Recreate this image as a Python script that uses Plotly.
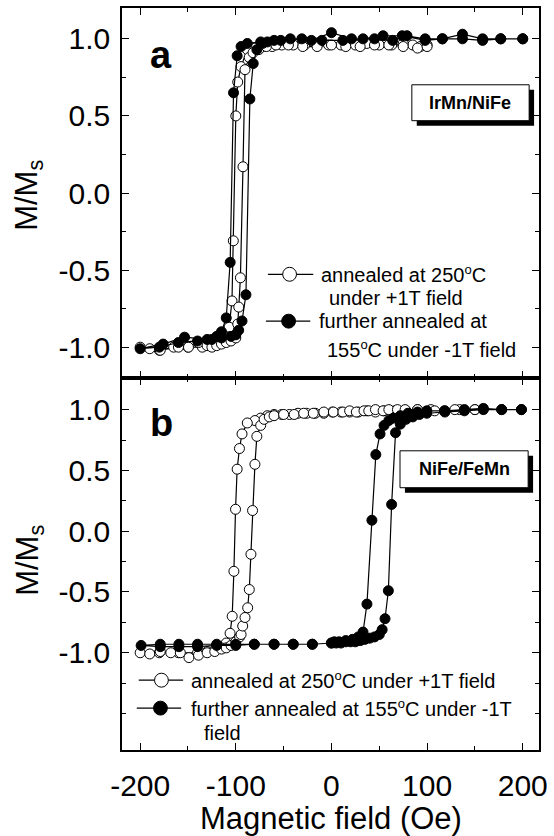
import plotly.graph_objects as go

# ---------------- data (H in Oe, M/Ms) ----------------
# Panel a: IrMn/NiFe
a_open_H = [100, 93, 85, 75, 63, 50, 37, 25, 10, -3, -15, -28, -40, -52, -62, -72, -80, -88,
            -94.5, -98, -100, -102.6, -104, -107, -110, -120, -135, -150, -165, -180, -200,
            -190, -179, -160, -149.5, -139, -130, -125, -120, -115, -110, -105, -100, -98,
            -96.9, -95.2, -92.5, -90.4, -86, -82, -76, -68, -58, -45, -30, -15, 0, 15, 30,
            45, 60, 75, 90, 100]
a_open_M = [0.96, 0.95, 0.96, 0.97, 0.96, 0.96, 0.97, 0.96, 0.96, 0.96, 0.97, 0.96, 0.96, 0.96,
            0.95, 0.95, 0.94, 0.93, 0.82, 0.72, 0.50, -0.31, -0.70, -0.87, -0.95, -0.98, -1.0,
            -1.0, -1.0, -1.02, -1.0,
            -1.01, -1.02, -1.0, -1.0, -0.97, -0.99, -1.0, -0.99, -0.98, -0.97, -0.96, -0.94,
            -0.85, -0.74, -0.55, 0.17, 0.80, 0.88, 0.91, 0.93, 0.95, 0.96, 0.96, 0.95, 0.95,
            0.96, 0.95, 0.95, 0.96, 0.96, 0.95, 0.94, 0.95]
a_fill_H = [200, 177, 158, 137, 116, 98, 79, 64, 45, 21, 0, -21, -43, -60, -74, -88, -94.5,
            -98.6, -102.4, -105.9, -110, -115, -120, -130, -153.6, -176, -200,
            -180, -160, -140, -125, -115, -105, -100, -97, -93.5, -89.4, -85.3, -81.8, -78,
            -72, -67, -53, -31, -10, 12, 33, 54, 74, 98, 116, 137, 158, 177, 200]
a_fill_M = [1.0, 1.0, 1.0, 1.03, 1.0, 1.0, 1.02, 0.99, 1.0, 1.0, 1.04, 0.99, 1.0, 0.99, 0.98,
            0.97, 0.95, 0.89, 0.65, -0.45, -0.81, -0.90, -0.93, -0.95, -0.935, -0.98, -1.01,
            -1.0, -0.97, -0.96, -0.95, -0.94, -0.93, -0.92, -0.89, -0.83, -0.66, 0.61, 0.84,
            0.93, 0.97, 0.98, 0.99, 1.0, 0.99, 0.99, 1.0, 1.02, 1.02, 0.99, 1.0, 1.0, 0.99,
            1.0, 1.0]

# Panel b: NiFe/FeMn
b_open_H = [150, 134, 118, 104, 90, 78, 66, 55, 46, 37, 28, 19, 10, 1, -8, -17, -26, -35, -44,
            -52, -60, -67, -74, -80, -88, -93.5, -96.2, -98.6, -100.3, -102, -103.8, -106,
            -110, -115, -122, -130, -140, -160, -180, -200,
            -190, -179, -168, -158, -149, -139, -130, -122, -115, -110, -105, -100, -96,
            -94.5, -92.8, -90.4, -87.6, -85.9, -84.2, -82.5, -80, -78, -74, -70.4, -65, -60,
            -50, -39, -29, -19, -8, 2, 12, 19, 26, 34, 39, 46, 54, 60, 69, 77, 90, 108, 129,
            150]
b_open_M = [1.0, 1.0, 0.99, 1.0, 1.0, 0.99, 0.99, 0.99, 0.98, 0.99, 0.98, 0.98, 0.98, 0.98,
            0.97, 0.97, 0.97, 0.97, 0.96, 0.96, 0.96, 0.95, 0.93, 0.91, 0.89, 0.80, 0.68,
            0.51, 0.18, -0.33, -0.70, -0.84, -0.92, -0.96, -0.98, -0.99, -1.0, -1.0, -1.0,
            -1.0,
            -1.01, -0.99, -1.0, -1.0, -1.04, -1.02, -1.0, -0.99, -0.97, -0.96, -0.94, -0.91,
            -0.87, -0.85, -0.78, -0.71, -0.63, -0.48, -0.19, 0.17, 0.55, 0.78, 0.87, 0.92,
            0.94, 0.95, 0.96, 0.96, 0.97, 0.97, 0.98, 0.98, 0.98, 0.99, 0.98, 0.99, 0.99,
            1.0, 0.99, 1.0, 1.0, 1.0, 1.0, 0.99, 1.0, 1.0]
b_fill_H = [198.6, 178, 158.8, 139, 118.6, 99.7, 90, 80, 72, 65, 60, 55, 50.8, 46.4, 42.3,
            37.1, 33, 28, 22, 15, 8, 3, 0, -20, -40, -60, -80.7, -100, -120, -140, -159.5,
            -179, -199,
            -179, -159.5, -140, -120, -100, -80.7, -60, -40, -20, 0, 5, 10, 15, 20, 25, 30,
            35, 40, 45, 50, 53, 56, 59.5, 62.9, 67, 72, 78, 85, 92, 99.7, 118.6, 139, 158.8,
            178, 198.6]
b_fill_M = [1.0, 1.0, 1.01, 1.0, 0.99, 0.99, 0.98, 0.97, 0.95, 0.93, 0.91, 0.87, 0.80, 0.63,
            0.09, -0.60, -0.83, -0.87, -0.89, -0.90, -0.91, -0.91, -0.92, -0.93, -0.93, -0.93,
            -0.93, -0.93, -0.93, -0.93, -0.93, -0.93, -0.94,
            -0.95, -0.95, -0.95, -0.94, -0.94, -0.93, -0.93, -0.93, -0.93, -0.92, -0.92,
            -0.92, -0.91, -0.91, -0.91, -0.90, -0.89, -0.88, -0.87, -0.85, -0.81, -0.72,
            -0.49, 0.22, 0.81, 0.88, 0.92, 0.94, 0.96, 0.97, 0.98, 0.99, 1.0, 1.0, 1.0]

y_tickvals = [-1.0, -0.5, 0.0, 0.5, 1.0]
y_ticktext = ["-1.0", "-0.5", "0.0", "0.5", "1.0"]
x_tickvals = [-200, -100, 0, 100, 200]
x_ticktext = ["-200", "-100", "0", "100", "200"]

DEG = "<sup><span style='font-size:13px'>o</span></sup>"
legend_open = "annealed at 250" + DEG + "C"
legend_open2 = "under +1T field"
legend_fill = "further annealed at"
legend_fill2 = "155" + DEG + "C under -1T field"
legend_b_open = "annealed at 250" + DEG + "C under +1T field"
legend_b_fill = "further annealed at 155" + DEG + "C under -1T"
legend_b_fill2 = "field"

# ---------------- layout geometry ----------------
FW, FH = 554, 836
L, R, T, B = 122, 545, 6, 750
MID = 377
FONT = "Liberation Sans, Arial, sans-serif"


def px(x):
    return (x - L) / (R - L)


def py(y):
    return (B - y) / (B - T)


split = py(MID)

fig = go.Figure()

open_marker = dict(symbol="circle", size=10, color="white", line=dict(color="black", width=1))
fill_marker = dict(symbol="circle", size=10, color="black", line=dict(color="black", width=1))
line_style = dict(color="black", width=1.2)

fig.add_trace(go.Scatter(x=a_open_H, y=a_open_M, mode="lines+markers", marker=open_marker,
                         line=line_style, xaxis="x", yaxis="y", showlegend=False))
fig.add_trace(go.Scatter(x=a_fill_H, y=a_fill_M, mode="lines+markers", marker=fill_marker,
                         line=line_style, xaxis="x", yaxis="y", showlegend=False))
fig.add_trace(go.Scatter(x=b_open_H, y=b_open_M, mode="lines+markers", marker=open_marker,
                         line=line_style, xaxis="x2", yaxis="y2", showlegend=False))
fig.add_trace(go.Scatter(x=b_fill_H, y=b_fill_M, mode="lines+markers", marker=fill_marker,
                         line=line_style, xaxis="x2", yaxis="y2", showlegend=False))

xcommon = dict(range=[-219, 217], tickmode="array", tickvals=x_tickvals,
               ticks="inside", ticklen=7, tickwidth=1.3, tickcolor="black",
               minor=dict(tickvals=[-150, -50, 50, 150], ticks="inside", ticklen=4,
                          tickwidth=1.3, tickcolor="black"),
               showline=True, linecolor="black", linewidth=1.5, mirror="ticks",
               showgrid=False, zeroline=False,
               tickfont=dict(family=FONT, size=30, color="black"))
ycommon = dict(tickmode="array", tickvals=y_tickvals, ticktext=y_ticktext,
               ticks="inside", ticklen=7, tickwidth=1.3, tickcolor="black",
               showline=True, linecolor="black", linewidth=1.5, mirror="ticks",
               showgrid=False, zeroline=False, ticklabelstandoff=4,
               tickfont=dict(family=FONT, size=30, color="black"))

fig.update_layout(
    width=FW, height=FH,
    margin=dict(l=L, r=FW - R, t=T, b=FH - B, pad=0),
    paper_bgcolor="white", plot_bgcolor="white",
    xaxis=dict(xcommon, domain=[0, 1], anchor="y", showticklabels=False),
    yaxis=dict(ycommon, domain=[split, 1], anchor="x", range=[-1.2, 1.2],
               minor=dict(tickvals=[-0.75, -0.25, 0.25, 0.75], ticks="inside", ticklen=4,
                          tickwidth=1.3, tickcolor="black")),
    xaxis2=dict(xcommon, domain=[0, 1], anchor="y2", ticktext=x_ticktext,
                ticklabelstandoff=8),
    yaxis2=dict(ycommon, domain=[0, split], anchor="x2", range=[-1.8, 1.26],
                minor=dict(tickvals=[-1.5, -1.25, -0.75, -0.25, 0.25, 0.75], ticks="inside",
                           ticklen=4, tickwidth=1.3, tickcolor="black")),
    showlegend=False,
)

shapes = []
annotations = []


def txt(text, x, y, size, xanchor="left", bold=False, angle=0):
    annotations.append(dict(text=("<b>%s</b>" % text) if bold else text,
                            x=px(x), y=py(y), xref="paper", yref="paper",
                            xanchor=xanchor, yanchor="middle", showarrow=False,
                            textangle=angle,
                            font=dict(family=FONT, size=size, color="black")))


def label_box(x0, y0, x1, y1, text, off=5):
    shapes.append(dict(type="rect", xref="paper", yref="paper",
                       x0=px(x0 + off), x1=px(x1 + off), y0=py(y0 + off), y1=py(y1 + off),
                       fillcolor="black", line=dict(width=0)))
    shapes.append(dict(type="rect", xref="paper", yref="paper",
                       x0=px(x0), x1=px(x1), y0=py(y0), y1=py(y1),
                       fillcolor="white", line=dict(color="black", width=1)))
    txt(text, (x0 + x1) / 2, (y0 + y1) / 2, 18, xanchor="center", bold=True)


def legend_sym(x0, x1, cx, cy, filled, r=7):
    shapes.append(dict(type="line", xref="paper", yref="paper",
                       x0=px(x0), x1=px(x1), y0=py(cy), y1=py(cy),
                       line=dict(color="black", width=1.2)))
    shapes.append(dict(type="circle", xref="paper", yref="paper",
                       x0=px(cx - r), x1=px(cx + r), y0=py(cy + r), y1=py(cy - r),
                       fillcolor="black" if filled else "white",
                       line=dict(color="black", width=1)))


# panel letters
txt("a", 162, 53, 38, xanchor="center", bold=True)
txt("b", 162, 422, 38, xanchor="center", bold=True)

# sample boxes
label_box(416, 83, 535, 119, "IrMn/NiFe")
label_box(404, 450, 534, 487, "NiFe/FeMn")

# legend panel a
legend_sym(270, 316, 292, 273, False)
txt(legend_open, 322, 273, 20)
txt(legend_open2, 330, 297, 20)
legend_sym(268, 313, 291, 320, True)
txt(legend_fill, 320, 320, 20)
txt(legend_fill2, 328, 348, 20)

# legend panel b
legend_sym(139, 184, 162, 680, False)
txt(legend_b_open, 190, 680, 20)
legend_sym(137, 182, 161, 708, True)
txt(legend_b_fill, 190, 708, 20)
txt(legend_b_fill2, 203, 733, 20)

# axis titles
txt("M/M<sub>s</sub>", 28, 194, 31, xanchor="center", angle=-90)
txt("M/M<sub>s</sub>", 28, 560, 31, xanchor="center", angle=-90)
txt("Magnetic field (Oe)", 334, 819, 31, xanchor="center")

fig.update_layout(shapes=shapes, annotations=annotations)
fig.write_html("out.html")
